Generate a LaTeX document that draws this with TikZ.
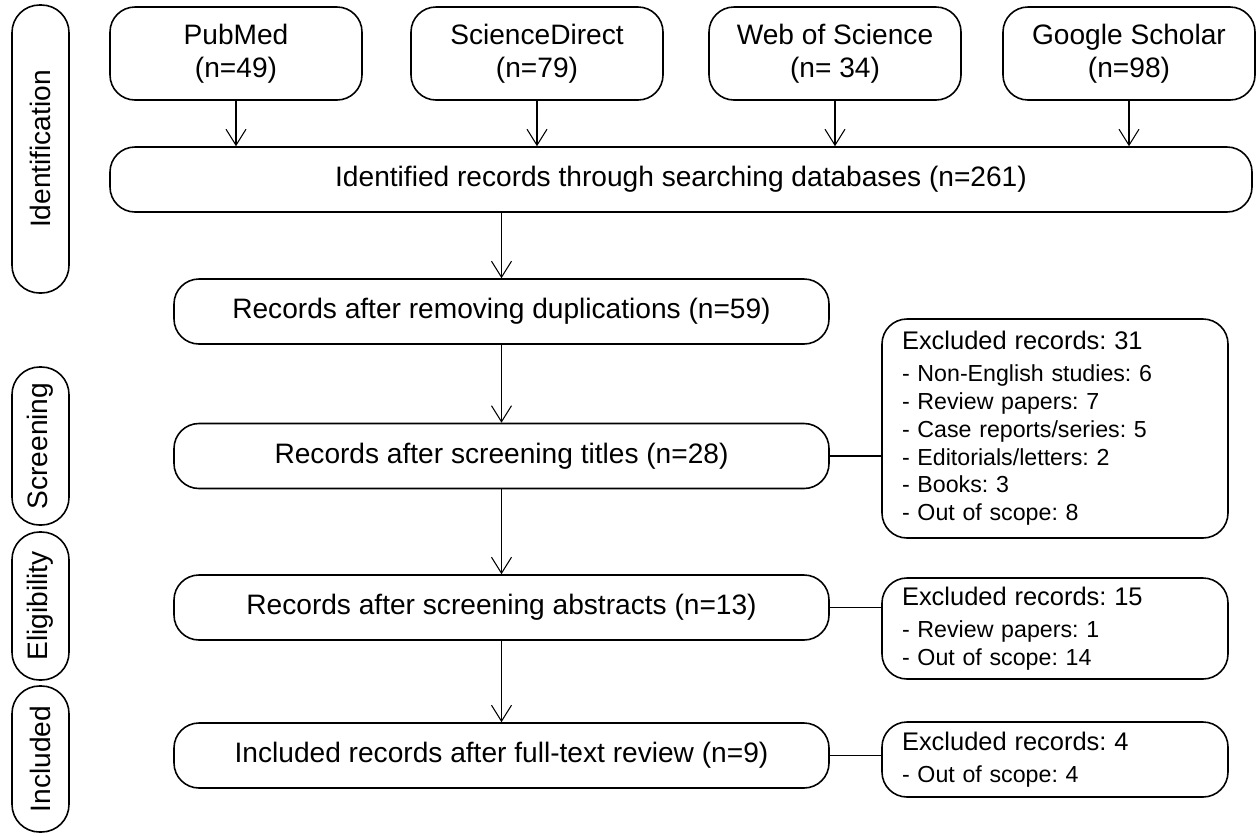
\documentclass[tikz,border=0pt]{standalone}
\usepackage{fontspec}
\setmainfont{Liberation Sans}
\usetikzlibrary{arrows.meta}
\frenchspacing
\newcommand{\exhead}[1]{{\fontsize{14.5}{16}\selectfont #1}}

\begin{document}
\begin{tikzpicture}[
    box/.style={draw, line width=0.9pt, rounded corners=0.5cm, align=center,
      inner sep=0pt, font=\fontsize{16}{18.5}\selectfont},
    phase/.style={draw, line width=0.9pt, rounded corners=0.55cm, rotate=90,
      minimum height=1.14cm, inner sep=0pt, font=\fontsize{16}{18.5}\selectfont},
    excl/.style={draw, line width=0.9pt, rounded corners=0.5cm, align=left,
      text width=6.12cm, inner xsep=0.4cm, inner ysep=0pt, minimum width=6.92cm,
      font=\fontsize{13.2}{15.9}\selectfont},
    arr/.style={-{Straight Barb[length=3.2mm,width=4mm]}, line width=0.6pt},
    link/.style={line width=0.6pt}]
\useasboundingbox (0,0) rectangle (25.14,-16.70);

% phases on the left
\node[phase, minimum width=5.76cm] (ident) at (0.81,-2.98) {Identification};
\node[phase, minimum width=3.16cm] (screen) at (0.81,-8.92) {Screening};
\node[phase, minimum width=2.96cm] (elig) at (0.81,-12.12) {Eligibility};
\node[phase, minimum width=2.92cm] (incl) at (0.81,-15.18) {Included};

% databases
\foreach \db/\txt/\x in {pubmed/{PubMed\\(n=49)}/4.72,
    scidir/{ScienceDirect\\(n=79)}/10.74,
    wos/{Web of Science\\(n= 34)}/16.70,
    gscholar/{Google Scholar\\(n=98)}/22.58}{
  \node[box, minimum width=5.04cm, minimum height=1.86cm] (\db) at (\x,-1.07) {\txt};
}

\node[box, minimum width=22.84cm, minimum height=1.30cm] (found) at (13.62,-3.59)
  {Identified records through searching databases (n=261)};

\foreach \db in {pubmed,scidir,wos,gscholar}
  \draw[arr] (\db) -- (\db |- found.north);

% main flow
\node[box, minimum width=13.10cm, minimum height=1.30cm] (dedup) at (10.03,-6.23)
  {Records after removing duplications (n=59)};
\node[box, minimum width=13.10cm, minimum height=1.30cm] (titles) at (10.03,-9.12)
  {Records after screening titles (n=28)};
\node[box, minimum width=13.10cm, minimum height=1.30cm] (abstr) at (10.03,-12.15)
  {Records after screening abstracts (n=13)};
\node[box, minimum width=13.10cm, minimum height=1.30cm] (final) at (10.03,-15.11)
  {Included records after full-text review (n=9)};

\draw[arr] (dedup.north |- found.south) -- (dedup.north);
\draw[arr] (dedup) -- (titles);
\draw[arr] (titles) -- (abstr);
\draw[arr] (abstr) -- (final);

% exclusions
\node[excl, minimum height=4.38cm] (ex1) at (21.10,-8.57)
  {\exhead{Excluded records: 31}\\[2pt]
   - Non-English studies: 6\\
   - Review papers: 7\\
   - Case reports/series: 5\\
   - Editorials/letters: 2\\
   - Books: 3\\
   - Out of scope: 8};
\node[excl, minimum height=2.02cm] (ex2) at (21.10,-12.57)
  {\exhead{Excluded records: 15}\\[2pt]
   - Review papers: 1\\
   - Out of scope: 14};
\node[excl, minimum height=1.50cm] (ex3) at (21.10,-15.19)
  {\exhead{Excluded records: 4}\\[2pt]
   - Out of scope: 4};

\draw[link] (titles) -- (titles -| ex1.west);
\draw[link] (abstr) -- (abstr -| ex2.west);
\draw[link] (final) -- (final -| ex3.west);
\end{tikzpicture}
\end{document}
